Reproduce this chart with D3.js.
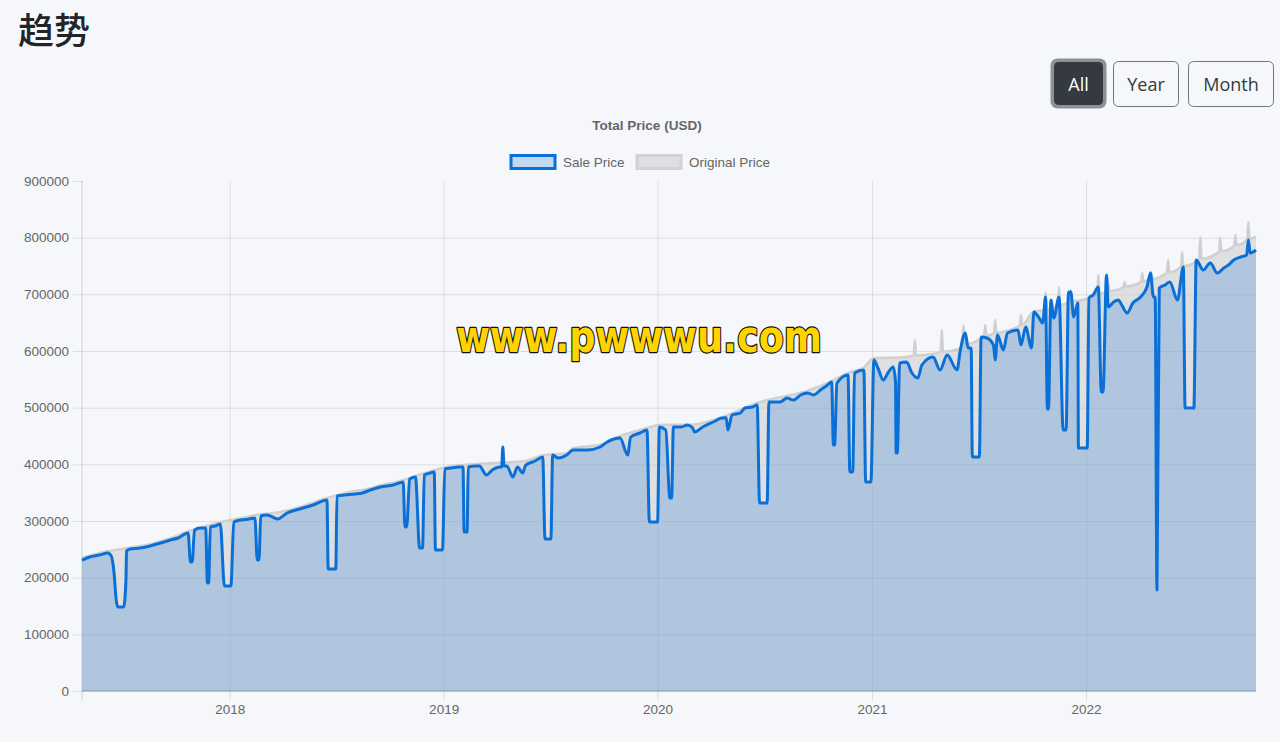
<!DOCTYPE html>
<html><head><meta charset="utf-8">
<script src="https://cdn.jsdelivr.net/npm/d3@7"></script>
<style>
html,body{margin:0;padding:0;background:#f5f7fa;}
svg{display:block}
</style></head><body>
<svg id="c" width="1280" height="742"></svg>
<script>
const pageTitle = "趋势";
const chartTitle = "Total Price (USD)";
const seriesNames = ["Sale Price", "Original Price"];
const buttonLabels = ["All", "Year", "Month"];
const watermark = "www.pwwwu.com";
const yTicks = [0,100000,200000,300000,400000,500000,600000,700000,800000,900000];

const saleDates = [
"2017-04-24","2017-05-07","2017-05-24","2017-06-07","2017-06-13","2017-06-18","2017-06-21","2017-06-24","2017-07-04","2017-07-08",
"2017-07-09","2017-07-15","2017-08-01","2017-08-18","2017-09-05","2017-09-22","2017-10-05","2017-10-17","2017-10-22","2017-10-26",
"2017-10-29","2017-11-02","2017-11-12","2017-11-21","2017-11-24","2017-11-26","2017-11-29","2017-12-07","2017-12-16","2017-12-23",
"2018-01-03","2018-01-08","2018-01-20","2018-02-03","2018-02-13","2018-02-17","2018-02-20","2018-02-23","2018-03-05","2018-03-15",
"2018-03-24","2018-04-09","2018-04-30","2018-05-23","2018-06-16","2018-06-18","2018-07-01","2018-07-03","2018-07-16","2018-08-03",
"2018-08-15","2018-08-29","2018-09-15","2018-10-07","2018-10-24","2018-10-27","2018-10-30","2018-11-04","2018-11-14","2018-11-21",
"2018-11-26","2018-11-29","2018-12-09","2018-12-16","2018-12-18","2018-12-30","2019-01-03","2019-01-13","2019-01-27","2019-02-03",
"2019-02-05","2019-02-10","2019-02-12","2019-02-25","2019-03-03","2019-03-15","2019-03-25","2019-04-07","2019-04-10","2019-04-12",
"2019-04-14","2019-04-19","2019-04-29","2019-05-07","2019-05-16","2019-05-21","2019-06-06","2019-06-19","2019-06-23","2019-07-03",
"2019-07-06","2019-07-15","2019-07-30","2019-08-10","2019-09-03","2019-09-25","2019-10-07","2019-10-29","2019-11-11","2019-11-16",
"2019-12-02","2019-12-14","2019-12-18","2020-01-01","2020-01-04","2020-01-15","2020-01-22","2020-01-25","2020-01-28","2020-02-10",
"2020-02-21","2020-03-01","2020-03-04","2020-03-18","2020-04-05","2020-04-20","2020-04-27","2020-04-30","2020-05-07","2020-05-21",
"2020-05-29","2020-06-11","2020-06-19","2020-06-23","2020-07-06","2020-07-09","2020-07-28","2020-08-09","2020-08-20","2020-09-01",
"2020-09-13","2020-09-23","2020-10-05","2020-10-17","2020-10-24","2020-10-27","2020-10-29","2020-11-02","2020-11-21","2020-11-24",
"2020-11-29","2020-12-02","2020-12-18","2020-12-21","2020-12-30","2021-01-04","2021-01-11","2021-01-20","2021-01-28","2021-02-06",
"2021-02-10","2021-02-11","2021-02-13","2021-02-17","2021-03-01","2021-03-10","2021-03-20","2021-03-27","2021-04-15","2021-04-27",
"2021-05-09","2021-05-26","2021-05-31","2021-06-09","2021-06-14","2021-06-19","2021-06-21","2021-07-03","2021-07-06","2021-07-16",
"2021-07-27","2021-07-30","2021-08-03","2021-08-13","2021-08-20","2021-09-07","2021-09-12","2021-09-20","2021-09-30","2021-10-04",
"2021-10-12","2021-10-19","2021-10-24","2021-10-27","2021-10-29","2021-11-02","2021-11-07","2021-11-16","2021-11-23","2021-11-28",
"2021-12-02","2021-12-06","2021-12-11","2021-12-18","2021-12-19","2022-01-03","2022-01-06","2022-01-13","2022-01-22","2022-01-27",
"2022-01-30","2022-02-05","2022-02-08","2022-02-17","2022-02-25","2022-03-03","2022-03-12","2022-03-22","2022-04-04","2022-04-15",
"2022-04-21","2022-04-26","2022-04-29","2022-05-02","2022-05-06","2022-05-16","2022-05-24","2022-06-06","2022-06-16","2022-06-19",
"2022-07-04","2022-07-08","2022-07-20","2022-08-01","2022-08-13","2022-08-24","2022-09-01","2022-09-10","2022-09-22","2022-10-02",
"2022-10-05","2022-10-08","2022-10-18"
];
const saleValues = [
231000,236500,240000,243500,238000,204700,164000,148200,148200,195900,
247000,250600,252400,255900,261200,266500,270000,277100,278800,227600,
227600,284100,287600,287600,190600,190600,289400,291200,294700,185300,
185300,298200,301800,303500,305300,231200,231200,308800,310600,307100,
303500,314100,321200,328200,337100,215300,215300,344100,345900,347600,
349400,354700,360000,363500,368800,289400,289400,374100,377600,252400,
252400,381200,384700,386500,248800,248800,391800,393500,395300,395300,
280600,280600,395300,397100,397100,381200,390000,395300,395300,430600,
397100,397100,377600,395300,384700,398800,405900,412900,268200,268200,
416500,411200,416500,425300,425300,430600,439400,446500,416500,448200,
455300,460600,298200,298200,465900,460600,340600,340600,465900,465900,
469400,464100,457000,465900,474700,481800,482000,460600,487000,490600,
499400,501200,504700,331800,331800,510000,510000,517000,513500,522400,
525900,522400,531200,540000,545300,434100,434100,543500,557600,386500,
386500,561200,566500,368800,368800,584100,570000,548800,561200,571800,
545300,420000,420000,578800,580600,561200,552400,575300,589400,566500,
592900,566500,598200,631800,605300,605300,412900,412900,624700,622900,
610600,584100,628200,601800,631800,637100,610600,642400,605300,668800,
660000,649400,695300,497600,497600,690000,658200,695300,460600,460600,
704100,704100,660000,684700,428800,428800,693500,698800,712900,527600,
527600,734100,677600,686500,690000,681200,667100,684700,695300,712900,
737600,695300,695300,178200,711200,716500,721800,690000,748200,499400,
499400,760600,742900,755300,737600,746500,751800,760600,765900,769400,
796500,772900,778200
];

const originalDates = [
"2017-04-24","2017-06-07","2017-07-15","2017-08-18","2017-09-22","2017-10-22","2017-11-21","2017-12-16","2018-01-20","2018-02-23",
"2018-03-24","2018-04-30","2018-06-16","2018-07-16","2018-08-29","2018-09-15","2018-10-24","2018-11-29","2019-01-13","2019-02-25",
"2019-05-21","2019-06-19","2019-07-30","2019-08-10","2019-09-25","2019-10-29","2019-12-14","2020-01-04","2020-02-27","2020-04-27",
"2020-06-19","2020-07-09","2020-09-13","2020-10-24","2020-11-21","2020-12-18","2021-01-04","2021-02-20","2021-03-13","2021-03-15",
"2021-03-17","2021-04-15","2021-04-28","2021-04-30","2021-05-02","2021-05-31","2021-06-04","2021-06-06","2021-06-08","2021-07-11",
"2021-07-13","2021-07-15","2021-07-28","2021-07-30","2021-08-01","2021-08-20","2021-09-10","2021-09-12","2021-09-14","2021-10-04",
"2021-10-22","2021-10-24","2021-10-26","2021-11-14","2021-11-16","2021-11-18","2021-12-04","2021-12-06","2021-12-08","2022-01-20",
"2022-01-22","2022-01-24","2022-02-06","2022-02-08","2022-02-10","2022-03-06","2022-03-08","2022-03-10","2022-04-05","2022-04-07",
"2022-04-09","2022-04-19","2022-04-21","2022-04-23","2022-05-19","2022-05-21","2022-05-23","2022-06-12","2022-06-14","2022-06-16",
"2022-07-13","2022-07-15","2022-07-17","2022-08-16","2022-08-18","2022-08-20","2022-09-11","2022-09-13","2022-09-15","2022-10-03",
"2022-10-05","2022-10-07","2022-10-18"
];
const originalValues = [
235000,246500,253000,259000,269500,282000,291000,298000,305000,312000,
315000,324500,340500,349000,358000,363000,372000,384500,396500,400500,
406000,416000,420000,428500,434500,450000,464000,469500,470000,486000,
508500,514000,530000,547000,561500,571000,587500,588500,592000,619400,
592000,595000,598000,637100,599000,604000,611000,645900,612000,626500,
645900,627000,631000,654700,632000,636000,645000,663500,646000,670000,
672000,704100,673000,680000,712900,681000,687000,707600,688000,700000,
734100,701000,705000,720000,706000,713000,721800,714000,722000,737600,
723000,726000,739400,727000,738000,760600,739000,749000,774700,750000,
762000,801200,763000,775000,799400,776000,786000,804700,787000,797000,
827600,798000,802000
];

const svg = d3.select("#c");
const parse = d3.utcParse("%Y-%m-%d");
const sale = saleDates.map((d, i) => ({date: parse(d), value: saleValues[i]}));
const orig = originalDates.map((d, i) => ({date: parse(d), value: originalValues[i]}));

const L = 82, R = 1256, T = 181, B = 691;
const x = d3.scaleUtc().domain(d3.extent(sale, d => d.date)).range([L, R]);
const y = d3.scaleLinear().domain([0, 900000]).range([B, T]);

const chartFont = "'Liberation Sans', Arial, Helvetica, sans-serif";
const gridColor = "rgba(0,0,0,0.1)";

// page title
svg.append("text").attr("x", 18).attr("y", 44)
  .attr("font-family", "'Noto Sans CJK SC', sans-serif").attr("font-size", 36).attr("font-weight", 500)
  .attr("fill", "#212529").text(pageTitle);

// buttons
const btnSpec = [
  {x: 1054, w: 49, active: true},
  {x: 1113.5, w: 65, active: false},
  {x: 1188.5, w: 85, active: false}
];
buttonLabels.forEach((lab, i) => {
  const b = btnSpec[i];
  const g = svg.append("g");
  if (b.active) {
    g.append("rect").attr("x", b.x - 3.5).attr("y", 58.5).attr("width", b.w + 7).attr("height", 50)
      .attr("rx", 7).attr("fill", "#8d9196");
    g.append("rect").attr("x", b.x).attr("y", 62).attr("width", b.w).attr("height", 43)
      .attr("rx", 4.5).attr("fill", "#343a40");
  } else {
    g.append("rect").attr("x", b.x).attr("y", 61.5).attr("width", b.w).attr("height", 45)
      .attr("rx", 5).attr("fill", "none").attr("stroke", "#6c757d").attr("stroke-width", 1);
  }
  g.append("text").attr("x", b.x + b.w / 2).attr("y", 90.5).attr("text-anchor", "middle")
    .attr("font-family", "'Open Sans', 'Noto Sans', sans-serif").attr("font-size", 18)
    .attr("fill", b.active ? "#ffffff" : "#343a40").text(lab);
});

// chart title
svg.append("text").attr("x", 647).attr("y", 130).attr("text-anchor", "middle")
  .attr("font-family", chartFont).attr("font-size", 13.5).attr("font-weight", "bold")
  .attr("fill", "#666").text(chartTitle);

// legend
const legendSpec = [
  {x: 511, fill: "rgba(10,111,214,0.22)", stroke: "#0a6fd6"},
  {x: 637, fill: "rgba(200,200,200,0.5)", stroke: "#d2d2d2"}
];
seriesNames.forEach((n, i) => {
  const s = legendSpec[i];
  svg.append("rect").attr("x", s.x).attr("y", 155.5).attr("width", 44).attr("height", 13)
    .attr("fill", s.fill).attr("stroke", s.stroke).attr("stroke-width", 3);
  svg.append("text").attr("x", s.x + 52).attr("y", 166.5)
    .attr("font-family", chartFont).attr("font-size", 13.5).attr("fill", "#666").text(n);
});

// grid
const gy = svg.append("g").attr("transform", `translate(${L},0)`)
  .call(d3.axisLeft(y).tickValues(yTicks.filter(v => v < 900000)).tickSize(-(R - L)).tickFormat(""));
gy.select(".domain").remove();
gy.selectAll("line").attr("stroke", gridColor);

const gx = svg.append("g").attr("transform", `translate(0,${B})`)
  .call(d3.axisBottom(x).ticks(d3.utcYear.every(1)).tickSize(-(B - T)).tickFormat(""));
gx.select(".domain").remove();
gx.selectAll("line").attr("stroke", gridColor);

// axes with labels
const ay = svg.append("g").attr("transform", `translate(${L},0)`)
  .call(d3.axisLeft(y).tickValues(yTicks).tickSize(9).tickPadding(4).tickFormat(d3.format("d")));
ay.select(".domain").remove();
ay.selectAll("line").attr("stroke", gridColor);
ay.selectAll("text").attr("font-family", chartFont).attr("font-size", 13.5).attr("fill", "#666");

const ax = svg.append("g").attr("transform", `translate(0,${B})`)
  .call(d3.axisBottom(x).ticks(d3.utcYear.every(1)).tickSize(10).tickPadding(3).tickFormat(d3.utcFormat("%Y")));
ax.select(".domain").remove();
ax.selectAll("line").attr("stroke", gridColor);
ax.selectAll("text").attr("font-family", chartFont).attr("font-size", 13.5).attr("fill", "#666");

svg.append("line").attr("x1", L).attr("x2", L).attr("y1", T).attr("y2", B + 10)
  .attr("stroke", "rgba(0,0,0,0.15)");

// series
const area = d3.area().x(d => x(d.date)).y0(y(0)).y1(d => y(d.value)).curve(d3.curveMonotoneX);
const line = d3.line().x(d => x(d.date)).y(d => y(d.value)).curve(d3.curveMonotoneX);

svg.append("path").datum(orig).attr("d", area).attr("fill", "rgba(200,200,200,0.5)");
svg.append("path").datum(orig).attr("d", line).attr("fill", "none")
  .attr("stroke", "#d0d0d0").attr("stroke-width", 2.5).attr("stroke-linejoin", "round");
svg.append("path").datum(sale).attr("d", area).attr("fill", "rgba(10,111,214,0.22)");
svg.append("path").datum(sale).attr("d", line).attr("fill", "none")
  .attr("stroke", "#0a6fd6").attr("stroke-width", 3).attr("stroke-linejoin", "round");

// zero line
svg.append("line").attr("x1", L).attr("x2", R).attr("y1", B).attr("y2", B)
  .attr("stroke", "rgba(0,0,0,0.25)");

// watermark
svg.append("text").attr("x", 456).attr("y", 352)
  .attr("font-family", "'DejaVu Sans', sans-serif").attr("font-weight", "bold").attr("font-size", 44)
  .attr("textLength", 366).attr("lengthAdjust", "spacingAndGlyphs")
  .attr("fill", "#ffd400").attr("stroke", "#111").attr("stroke-width", 2.5)
  .attr("paint-order", "stroke").attr("stroke-linejoin", "round").text(watermark);
</script>
</body></html>
